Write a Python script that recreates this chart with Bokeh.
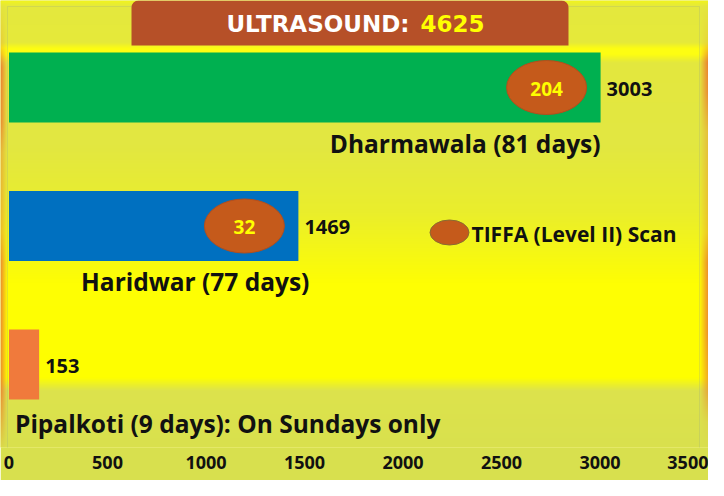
import numpy as np
from bokeh.plotting import figure
from bokeh.models import ColumnDataSource, BoxAnnotation, FixedTicker, Range1d
from bokeh.core.properties import value
from bokeh.embed import file_html
from bokeh.resources import INLINE

# ---------------- data ----------------
centres = ["Dharmawala", "Haridwar", "Pipalkoti"]
days = [81, 77, 9]
ultrasound = [3003, 1469, 153]
tiffa = [204, 32, None]
bar_colors = ["#00b050", "#0070c0", "#f07a3c"]
label_suffix = ["", "", ": On Sundays only"]
total_ultrasound = 4625
x_ticks = [0, 500, 1000, 1500, 2000, 2500, 3000, 3500]
legend_label = "TIFFA (Level II) Scan"
title_text = "ULTRASOUND:"

# ---------------- geometry helpers (page pixels -> data) ----------------
FIG_W, FIG_H = 708, 480
BOTTOM_BORDER = 33
X0_PAGE = 16.5          # page x of value 0
PX_PER_X = 0.197        # pixels per unit
ROW_PX = 138.5          # pixels between bar rows
TOP_ROW_PAGE_Y = 95     # page y of the top bar centre
FRAME_TOP, FRAME_BOTTOM = 8, 8 + FIG_H - BOTTOM_BORDER
n = len(centres)


def px_x(page_x):
    return (page_x - X0_PAGE) / PX_PER_X


def px_y(page_y):
    return (n - 1) + (TOP_ROW_PAGE_Y - page_y) / ROW_PX


x_lo, x_hi = px_x(8), px_x(8 + FIG_W)
y_lo, y_hi = px_y(FRAME_BOTTOM), px_y(FRAME_TOP)

p = figure(width=FIG_W, height=FIG_H, output_backend="svg", toolbar_location=None,
           x_range=Range1d(x_lo, x_hi), y_range=Range1d(y_lo, y_hi),
           y_axis_location=None, min_border_left=0, min_border_right=0,
           min_border_top=0, min_border_bottom=BOTTOM_BORDER)
p.outline_line_color = None
p.grid.visible = False
p.border_fill_color = "#d8e04e"
p.background_fill_color = "#e6ea3c"

# ---------------- background gradient ----------------
H = FRAME_BOTTOM - FRAME_TOP
W = FIG_W


def hex2rgb(h):
    h = h.lstrip("#")
    return np.array([int(h[i:i + 2], 16) for i in (0, 2, 4)], dtype=float)


stops = [(8, "#f2f41c"), (14, "#e4e83e"), (50, "#e6ea3a"), (56, "#fdfd12"), (62, "#fdfd12"),
         (70, "#e4e83e"), (150, "#e2e742"), (220, "#eaee2c"), (290, "#fefe04"), (385, "#ffff00"),
         (398, "#dde34c"), (470, "#d8e04e")]
sy = np.array([s[0] for s in stops], dtype=float)
sc = np.array([hex2rgb(s[1]) for s in stops])
rows = FRAME_TOP + np.arange(H) + 0.5
base = np.stack([np.interp(rows, sy, sc[:, k]) for k in range(3)], axis=1)  # H x 3
img = np.repeat(base[:, None, :], W, axis=1)

orange = hex2rgb("#ec7e30")
left_int = np.interp(rows, [8, 55, 75, 130, 160, 240, 270, 400, 430, 460],
                     [0.0, 0.3, 1.0, 0.9, 0.5, 0.5, 0.9, 0.9, 0.5, 0.0])
right_int = np.interp(rows, [8, 50, 70, 100, 140, 240, 270, 340, 400, 430, 460],
                      [0.0, 0.2, 1.0, 0.9, 0.4, 0.4, 0.9, 0.9, 0.6, 0.1, 0.0])
cols = 8 + np.arange(W) + 0.5
wl = np.clip(1 - (cols - 8) / 7, 0, 1)
wr = np.clip((cols - 707) / 9, 0, 1)
wgt = np.clip(left_int[:, None] * wl[None, :] + right_int[:, None] * wr[None, :], 0, 1)
img = img * (1 - wgt[..., None]) + orange[None, None, :] * wgt[..., None]
img = img[::-1].astype(np.uint8)  # bottom row first
rgba = np.empty((H, W), dtype=np.uint32)
view = rgba.view(dtype=np.uint8).reshape((H, W, 4))
view[..., 0] = img[..., 0]
view[..., 1] = img[..., 1]
view[..., 2] = img[..., 2]
view[..., 3] = 255
p.image_rgba(image=[rgba], x=x_lo, y=y_lo, dw=x_hi - x_lo, dh=y_hi - y_lo)

# inner frame border
p.add_layout(BoxAnnotation(left=px_x(15), right=px_x(707), top=px_y(14), bottom=px_y(456),
                           fill_color=None, line_color="#a2b47c", line_width=1))

# ---------------- bars ----------------
ypos = [n - 1 - i for i in range(n)]
src = ColumnDataSource(dict(y=ypos, right=ultrasound, color=bar_colors,
                            lbl=[str(v) for v in ultrasound]))
p.hbar(y="y", left=0, right="right", height=0.505, fill_color="color", line_color=None, source=src)

FONT = value("Open Sans")
p.text(x="right", y="y", text="lbl", source=src, x_offset=6, y_offset=1,
       text_font=FONT, text_font_style="bold", text_font_size="20px",
       text_color="#111111", text_baseline="middle", text_align="left")

# category labels
cat_labels = [f"{c} ({d} days){s}" for c, d, s in zip(centres, days, label_suffix)]
CAT_DY = 56
CAT_FS = "24.5px"
p.text(x=[ultrasound[0]], y=[ypos[0]], text=[cat_labels[0]], x_offset=0, y_offset=CAT_DY,
       text_font=FONT, text_font_style="bold", text_font_size=CAT_FS, text_color="#111111",
       text_baseline="middle", text_align="right")
p.text(x=[ultrasound[1]], y=[ypos[1]], text=[cat_labels[1]], x_offset=11, y_offset=CAT_DY - 1,
       text_font=FONT, text_font_style="bold", text_font_size=CAT_FS, text_color="#111111",
       text_baseline="middle", text_align="right")
p.text(x=[0], y=[ypos[2]], text=[cat_labels[2]], x_offset=6, y_offset=CAT_DY + 3,
       text_font=FONT, text_font_style="bold", text_font_size=CAT_FS, text_color="#111111",
       text_baseline="middle", text_align="left")

# TIFFA ellipses
t_idx = [i for i, t in enumerate(tiffa) if t is not None]
tsrc = ColumnDataSource(dict(x=[ultrasound[i] - 54 / PX_PER_X for i in t_idx],
                             y=[ypos[i] for i in t_idx],
                             lbl=[str(tiffa[i]) for i in t_idx]))
p.ellipse(x="x", y="y", width=80, height=54, width_units="screen", height_units="screen",
          fill_color="#c55a1b", line_color="#b44e1c", line_width=1, source=tsrc)
p.text(x="x", y="y", text="lbl", source=tsrc, text_font=FONT, text_font_style="bold",
       text_font_size="19px", text_color="#ffff00", text_baseline="middle", text_align="center",
       y_offset=1)

# legend
p.ellipse(x=[px_x(457)], y=[px_y(240)], width=39, height=25, width_units="screen",
          height_units="screen", fill_color="#c55a1b", line_color="#8a6a30", line_width=1)
p.text(x=[px_x(479)], y=[px_y(241)], text=[legend_label], text_font=FONT, text_font_style="bold",
       text_font_size="21px", text_color="#111111", text_baseline="middle", text_align="left")

# title box
p.add_layout(BoxAnnotation(left=px_x(139), right=px_x(576), top=y_hi, bottom=px_y(53),
                           fill_color="#b65028", fill_alpha=1, line_color=None,
                           border_radius=(7, 7, 0, 0)))
p.text(x=[px_x(417)], y=[px_y(31)], text=[title_text], text_font=value("DejaVu Sans"),
       text_font_style="bold", text_font_size="23px", text_color="#ffffff",
       text_baseline="middle", text_align="right", level="overlay")
p.text(x=[px_x(428)], y=[px_y(31)], text=[str(total_ultrasound)], text_font=value("DejaVu Sans"),
       text_font_style="bold", text_font_size="23px", text_color="#ffff00",
       text_baseline="middle", text_align="left", level="overlay")

# axis
ax = p.xaxis[0]
ax.ticker = FixedTicker(ticks=x_ticks)
ax.axis_line_color = None
ax.major_tick_line_color = None
ax.minor_tick_line_color = None
ax.major_tick_out = 0
ax.major_tick_in = 0
ax.major_label_standoff = 8
ax.major_label_text_font = "Open Sans"
ax.major_label_text_font_style = "bold"
ax.major_label_text_font_size = "18px"
ax.major_label_text_color = "#111111"

open("out.html", "w").write(file_html(p, INLINE))
